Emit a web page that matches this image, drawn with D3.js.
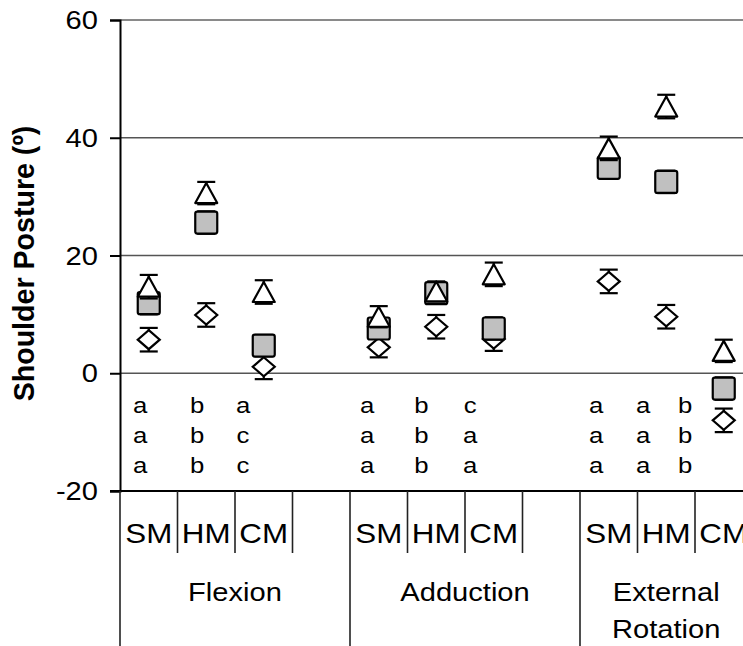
<!DOCTYPE html>
<html>
<head>
<meta charset="utf-8">
<script src="https://cdn.jsdelivr.net/npm/d3@7"></script>
<style>
  html,body{margin:0;padding:0;background:#fff;}
  svg{display:block;}
  text{font-family:"Liberation Sans",Arial,sans-serif;fill:#000;}
</style>
</head>
<body>
<svg id="chart" width="743" height="646"></svg>
<script>
/* ===== Data ===== */
const groups = ['Flexion','Adduction','External Rotation'];
const conditions = ['SM','HM','CM'];
const yTicks = [-20,0,20,40,60];

// one value per group x condition (Flexion SM..CM, Adduction SM..CM, Ext Rot SM..CM)
const triMean = [14.7, 30.6, 13.8, 9.6, 13.9, 16.8, 38.2, 45.3, 3.8];
const triSD   = [2.0, 1.9, 2.0, 1.8, 1.7, 2.0, 2.0, 2.0, 1.9];
const sqMean  = [11.9, 25.6, 4.7, 7.6, 13.6, 7.6, 34.9, 32.5, -2.6];
const sqSD    = [1.9, 1.9, 1.8, 1.6, 1.8, 1.9, 1.8, 1.9, 1.9];
const diaMean = [5.7, 9.9, 1.1, 4.4, 7.9, 5.8, 15.6, 9.6, -8.0];
const diaSD   = [2.0, 2.0, 2.1, 1.7, 2.0, 2.0, 2.0, 2.0, 2.0];

// significance letters (three rows) per cluster
const letters = [['a','a','a'],['b','b','b'],['a','c','c'],
                 ['a','a','a'],['b','b','b'],['c','a','a'],
                 ['a','a','a'],['a','a','a'],['b','b','b']];
const letterAt = [0.35, 1.34, 2.14, 4.3, 5.24, 6.09, 8.28, 9.1, 9.83]; // in slot units
const letterRows = [-6.8, -11.9, -17.0];                               // in degrees

/* ===== Layout ===== */
const svg = d3.select('#chart');
const m = {l:120, t:20, b:491};
const nSlots = 11;  // 4 per group, last group has no spare slot
const x = d3.scaleLinear().domain([0,nSlots]).range([m.l, m.l + nSlots*57.5]);
const y = d3.scaleLinear().domain([-20,60]).range([m.b, m.t]);
const SX = 1.12; // text in the source is a little wide

function wideText(g, px, py, str, size, anchor='middle', weight='normal'){
  return g.append('text')
    .attr('transform',`translate(${px},${py}) scale(${SX},1)`)
    .attr('text-anchor',anchor).attr('font-size',size).attr('font-weight',weight)
    .text(str);
}
const slotOf = i => Math.floor(i/3)*4 + (i%3);
const cx = i => x(slotOf(i) + 0.5);

/* ===== Grid & axes ===== */
const g = svg.append('g');
g.append('line').attr('x1',x(0)).attr('x2',x(nSlots)).attr('y1',y(60)).attr('y2',y(60))
  .attr('stroke','#8a8a8a').attr('stroke-width',2.2);
[0,20,40].forEach(v => g.append('line').attr('x1',x(0)).attr('x2',x(nSlots))
  .attr('y1',y(v)).attr('y2',y(v)).attr('stroke','#555').attr('stroke-width',1.5));

// y axis
const yAxis = d3.axisLeft(y).tickValues(yTicks).tickSize(10).tickFormat('');
const ya = g.append('g').attr('transform',`translate(${m.l},0)`).call(yAxis);
ya.select('.domain').attr('stroke','#000').attr('stroke-width',2);
ya.selectAll('.tick line').attr('stroke','#000').attr('stroke-width',2);
yTicks.forEach(v => wideText(g, 98, y(v)+9, String(v), 26, 'end'));

// category axis at -20
g.append('line').attr('x1',x(0)-10).attr('x2',x(nSlots)).attr('y1',y(-20)).attr('y2',y(-20))
  .attr('stroke','#000').attr('stroke-width',2.2);
d3.range(0, nSlots+1).forEach(s => {
  const major = s % 4 === 0;
  g.append('line').attr('x1',x(s)).attr('x2',x(s))
    .attr('y1',y(-20)).attr('y2', major ? 646 : 553)
    .attr('stroke','#222').attr('stroke-width',1.6);
});
groups.forEach((name,gi) => {
  conditions.forEach((c,ci) => wideText(g, x(gi*4+ci+0.5), 543, c, 28));
  const gx = (x(gi*4) + x(Math.min(gi*4+4, nSlots))) / 2;
  const words = name === 'External Rotation' ? ['External','Rotation'] : [name];
  words.forEach((w,wi) => wideText(g, gx, 601 + wi*37, w, 26));
});

// y title
g.append('text').attr('transform',`translate(34,${(y(60)+y(-20))/2 + 8}) rotate(-90) scale(1.04,1.1)`)
  .attr('text-anchor','middle').attr('font-size',27.5).attr('font-weight','bold')
  .text('Shoulder Posture (º)');

// letters
letters.forEach((col,i) => col.forEach((t,r) =>
  wideText(g, x(letterAt[i]), y(letterRows[r]), t, 23)));

/* ===== Series ===== */
function errBars(means, sds){
  const eb = svg.append('g').attr('stroke','#000').attr('stroke-width',2.2);
  means.forEach((v,i) => {
    const X = cx(i), lo = y(v - sds[i]), hi = y(v + sds[i]);
    eb.append('line').attr('x1',X).attr('x2',X).attr('y1',lo).attr('y2',hi);
    eb.append('line').attr('x1',X-9).attr('x2',X+9).attr('y1',lo).attr('y2',lo);
    eb.append('line').attr('x1',X-9).attr('x2',X+9).attr('y1',hi).attr('y2',hi);
  });
}

// diamonds
errBars(diaMean, diaSD);
svg.append('g').selectAll('path').data(diaMean).join('path')
  .attr('d',(v,i)=>{const X=cx(i),Y=y(v);return `M${X},${Y-9.5}L${X+11},${Y}L${X},${Y+9.5}L${X-11},${Y}Z`;})
  .attr('fill','#fff').attr('stroke','#000').attr('stroke-width',2.2);

// squares
errBars(sqMean, sqSD);
svg.append('g').selectAll('rect').data(sqMean).join('rect')
  .attr('x',(v,i)=>cx(i)-11).attr('y',v=>y(v)-11).attr('width',22).attr('height',22).attr('rx',2)
  .attr('fill','#c0c0c0').attr('stroke','#000').attr('stroke-width',2.2);

// triangles
errBars(triMean, triSD);
svg.append('g').selectAll('path').data(triMean).join('path')
  .attr('d',(v,i)=>{const X=cx(i),Y=y(v);return `M${X},${Y-10}L${X+11},${Y+10}L${X-11},${Y+10}Z`;})
  .attr('fill','#fff').attr('stroke','#000').attr('stroke-width',2.2).attr('stroke-linejoin','round');
</script>
</body>
</html>
